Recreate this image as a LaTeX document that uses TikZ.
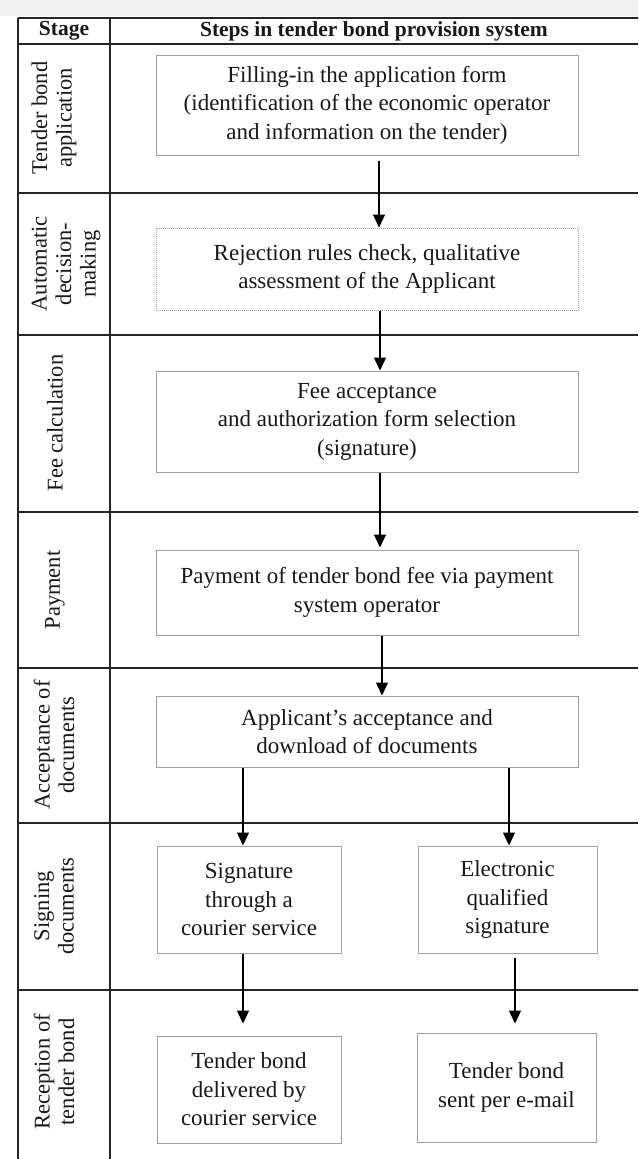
\documentclass[tikz,border=0pt]{standalone}
\usepackage{fontspec}
\setmainfont{Liberation Serif}
\usetikzlibrary{arrows.meta}
\newcommand\myBody{\fontsize{23}{28.5}\selectfont}
\newcommand\myStage{\fontsize{22.5}{24.5}\selectfont}
\newcommand\myHead{\fontsize{21.5}{24}\selectfont\bfseries}
\begin{document}
\begin{tikzpicture}[x=1pt,y={(0pt,-1pt)},
  tbl/.style={line width=1.3pt, draw=black!85},
  box/.style={draw=black!38, line width=1pt, align=center, font=\myBody, inner sep=0pt, text=black!90},
  dotbox/.style={box, dash pattern=on 1pt off 1pt},
  arr/.style={line width=1.4pt, draw=black, -{Triangle[length=13pt,width=12pt]}},
  stagelbl/.style={rotate=90, align=center, font=\myStage, inner sep=0pt, text=black!90},
  headlbl/.style={font=\myHead, inner sep=0pt, text=black!90}]
\useasboundingbox (0,0) rectangle (638,1159);
\fill[white] (0,0) rectangle (638,1159);
\fill[black!5] (0,0) rectangle (638,16);
% table grid
\foreach \yy in {18,44,193,335,512,668,823,990}
  \draw[tbl] (18,\yy) -- (638,\yy);
\draw[tbl] (18,18) -- (18,1159);
\draw[tbl] (110,18) -- (110,1159);
% header
\node[headlbl] (h1) at (64,31) {Stage};
\node[headlbl] (h2) at (374,31) {Steps in tender bond provision system};
% stage labels
\node[stagelbl] (s1) at (54,118) {Tender bond\\application};
\node[stagelbl] (s2) at (66,264) {Automatic\\decision-\\making};
\node[stagelbl] (s3) at (55,423) {Fee calculation};
\node[stagelbl] (s4) at (55,590) {Payment};
\node[stagelbl] (s5) at (54,745) {Acceptance of\\documents};
\node[stagelbl] (s6) at (54,906) {Signing\\documents};
\node[stagelbl] (s7) at (54,1072) {Reception of\\tender bond};
% boxes
\node[box, minimum width=422pt, minimum height=100pt] (b1) at (367,105)
  {Filling-in the application form\\(identification of the economic operator\\and information on the tender)};
\node[dotbox, minimum width=422pt, minimum height=82pt] (b2) at (367,269)
  {Rejection rules check, qualitative\\assessment of the Applicant};
\node[box, minimum width=422pt, minimum height=101pt] (b3) at (367,421.5)
  {Fee acceptance\\and authorization form selection\\(signature)};
\node[box, minimum width=422pt, minimum height=85pt] (b4) at (367,592.5)
  {Payment of tender bond fee via payment\\system operator};
\node[box, minimum width=422pt, minimum height=71pt] (b5) at (367,731.5)
  {Applicant's acceptance and\\download of documents};
\node[box, minimum width=184pt, minimum height=107pt] (b6a) at (249,899.5)
  {Signature\\through a\\courier service};
\node[box, minimum width=179pt, minimum height=107pt] (b6b) at (507.5,899.5)
  {Electronic\\qualified\\signature};
\node[box, minimum width=184pt, minimum height=107pt] (b7a) at (249,1089.5)
  {Tender bond\\delivered by\\courier service};
\node[box, minimum width=179pt, minimum height=109pt] (b7b) at (506.5,1087.5)
  {Tender bond\\sent per e-mail};
% connectors
\draw[arr] ([xshift=12pt,yshift=-5pt]b1.south) -- ([xshift=12pt]b2.north);
\draw[arr] ([xshift=13pt]b2.south) -- ([xshift=13pt]b3.north);
\draw[arr] ([xshift=13pt]b3.south) -- ([xshift=13pt,yshift=2pt]b4.north);
\draw[arr] ([xshift=15pt]b4.south) -- ([xshift=15pt]b5.north);
\draw[arr] ([xshift=-124pt]b5.south) -- ([xshift=-6pt]b6a.north);
\draw[arr] ([xshift=142pt]b5.south) -- ([xshift=1.5pt]b6b.north);
\draw[arr] ([xshift=-6pt]b6a.south) -- ([xshift=-6pt,yshift=12pt]b7a.north);
\draw[arr] ([xshift=7.5pt,yshift=-4pt]b6b.south) -- ([xshift=8.5pt,yshift=9pt]b7b.north);
\end{tikzpicture}
\end{document}
